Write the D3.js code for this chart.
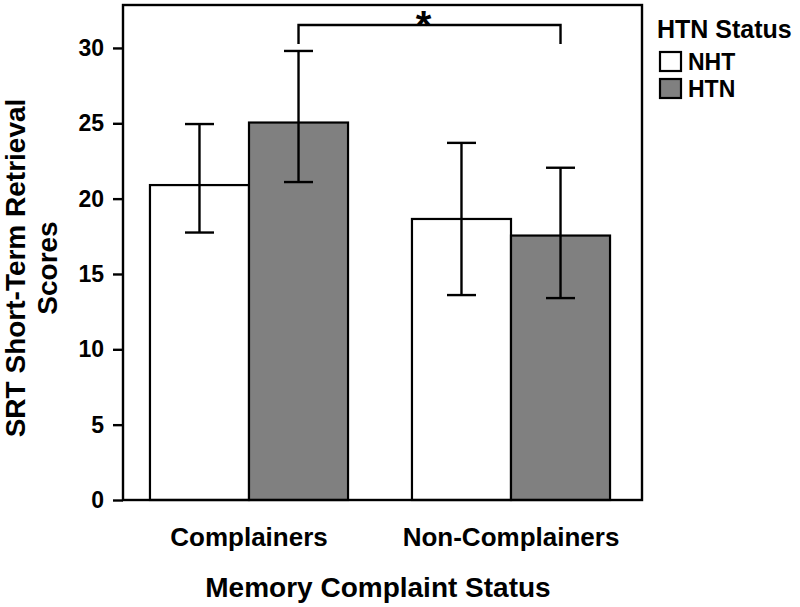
<!DOCTYPE html>
<html>
<head>
<meta charset="utf-8">
<script src="https://cdn.jsdelivr.net/npm/d3@7"></script>
<style>
  html, body { margin: 0; padding: 0; background: #fff; }
  text { font-family: "Liberation Sans", Arial, Helvetica, sans-serif; font-weight: bold; fill: #000; }
</style>
</head>
<body>
<svg id="chart" width="800" height="607"></svg>
<script>
const categories = ["Complainers", "Non-Complainers"];
const seriesNames = ["NHT", "HTN"];
const seriesColors = ["#ffffff", "#808080"];
const nhtMeans = [20.9, 18.65];
const htnMeans = [25.05, 17.55];
const nhtLower = [17.75, 13.6];
const nhtUpper = [24.95, 23.7];
const htnLower = [21.1, 13.4];
const htnUpper = [29.8, 22.05];
const yTicks = [0, 5, 10, 15, 20, 25, 30];
const yMax = 32.85;
const yLabelLines = ["SRT Short-Term Retrieval", "Scores"];
const xTitle = "Memory Complaint Status";
const legendTitle = "HTN Status";
const sigMark = "*";

const svg = d3.select("#chart");
const pLeft = 123, pRight = 642, pTop = 5, pBottom = 500;

const x0 = d3.scaleBand().domain(categories).range([118, pRight]).paddingInner(0.244).paddingOuter(0.122);
const x1 = d3.scaleBand().domain(seriesNames).range([0, x0.bandwidth()]);
const y = d3.scaleLinear().domain([0, yMax]).range([pBottom, pTop]);

const rows = [];
categories.forEach((c, i) => {
  rows.push({cat: c, s: "NHT", v: nhtMeans[i], lo: nhtLower[i], hi: nhtUpper[i], color: seriesColors[0]});
  rows.push({cat: c, s: "HTN", v: htnMeans[i], lo: htnLower[i], hi: htnUpper[i], color: seriesColors[1]});
});

// bars
svg.append("g").selectAll("rect").data(rows).join("rect")
  .attr("x", d => x0(d.cat) + x1(d.s))
  .attr("y", d => y(d.v))
  .attr("width", x1.bandwidth())
  .attr("height", d => y(0) - y(d.v))
  .attr("fill", d => d.color)
  .attr("stroke", "#000")
  .attr("stroke-width", 2.2);

// error bars
const capW = 29;
const eb = svg.append("g").attr("stroke", "#000").attr("stroke-width", 2.4);
rows.forEach(d => {
  const cx = x0(d.cat) + x1(d.s) + x1.bandwidth() / 2;
  eb.append("line").attr("x1", cx).attr("x2", cx).attr("y1", y(d.lo)).attr("y2", y(d.hi));
  eb.append("line").attr("x1", cx - capW / 2).attr("x2", cx + capW / 2).attr("y1", y(d.lo)).attr("y2", y(d.lo));
  eb.append("line").attr("x1", cx - capW / 2).attr("x2", cx + capW / 2).attr("y1", y(d.hi)).attr("y2", y(d.hi));
});

// frame
svg.append("rect").attr("x", pLeft).attr("y", pTop).attr("width", pRight - pLeft).attr("height", pBottom - pTop)
  .attr("fill", "none").attr("stroke", "#000").attr("stroke-width", 2.4);

// y axis
const yAxis = d3.axisLeft(y).tickValues(yTicks).tickSize(10).tickPadding(9).tickFormat(d3.format("d"));
const ya = svg.append("g").attr("transform", `translate(${pLeft},0)`).call(yAxis);
ya.select(".domain").remove();
ya.selectAll(".tick line").attr("stroke", "#000").attr("stroke-width", 2.4);
ya.selectAll(".tick text").style("font-size", "23px").style("font-family", "Liberation Sans, Arial, sans-serif").style("font-weight", "bold").attr("fill", "#000");

// x axis labels
const xAxis = d3.axisBottom(x0).tickSize(0).tickPadding(28);
const xa = svg.append("g").attr("transform", `translate(0,${pBottom})`).call(xAxis);
xa.select(".domain").remove();
xa.selectAll(".tick text").style("font-size", "26px").style("font-family", "Liberation Sans, Arial, sans-serif").style("font-weight", "bold").attr("fill", "#000");

// x title
svg.append("text").attr("x", (pLeft + pRight) / 2 - 4.5).attr("y", 597).attr("text-anchor", "middle")
  .style("font-size", "28px").text(xTitle);

// y title
const yl = svg.append("text").attr("transform", "translate(0,268) rotate(-90)").attr("text-anchor", "middle")
  .style("font-size", "28px");
yl.append("tspan").attr("x", 0).attr("y", 25).text(yLabelLines[0]);
yl.append("tspan").attr("x", 0).attr("y", 57).text(yLabelLines[1]);

// significance bracket
const bx1 = x0(categories[0]) + x1("HTN") + x1.bandwidth() / 2;
const bx2 = x0(categories[1]) + x1("HTN") + x1.bandwidth() / 2;
const by = 25, byEnd = 44;
svg.append("path")
  .attr("d", `M${bx1},${byEnd}V${by}H${bx2}V${byEnd}`)
  .attr("fill", "none").attr("stroke", "#000").attr("stroke-width", 2.4);
svg.append("text").attr("x", (bx1 + bx2) / 2 - 6).attr("y", 39).attr("text-anchor", "middle")
  .style("font-size", "40px").text(sigMark);

// legend
const lg = svg.append("g");
lg.append("text").attr("x", 657).attr("y", 38).style("font-size", "25px").text(legendTitle);
seriesNames.forEach((s, i) => {
  const yy = 52 + i * 27;
  lg.append("rect").attr("x", 660).attr("y", yy).attr("width", 21).attr("height", 19)
    .attr("fill", seriesColors[i]).attr("stroke", "#000").attr("stroke-width", 2.2);
  lg.append("text").attr("x", 688).attr("y", yy + 18).style("font-size", "23px").text(s);
});
</script>
</body>
</html>
